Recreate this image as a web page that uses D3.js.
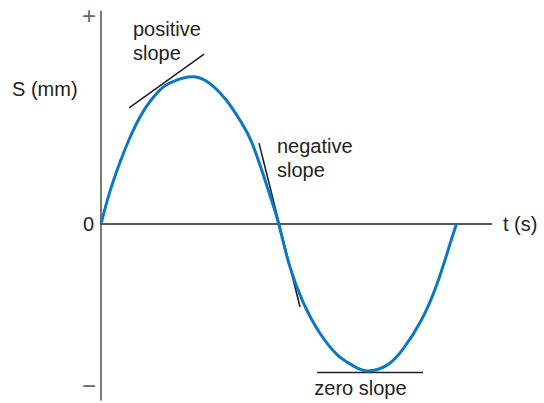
<!DOCTYPE html>
<html>
<head>
<meta charset="utf-8">
<script src="https://cdn.jsdelivr.net/npm/d3@7"></script>
<style>
  body { margin: 0; background: #fff; }
  text { font-family: "Liberation Sans", Arial, sans-serif; fill: #231f20; }
</style>
</head>
<body>
<div id="chart"></div>
<script>
'use strict';

// curve samples (t in s, S in mm, arbitrary units)
const tValues = [0, 0.05, 0.11, 0.16, 0.22, 0.28, 0.33, 0.38, 0.49, 0.59, 0.70, 0.79, 0.85, 0.92, 0.96, 1.0,
  1.06, 1.14, 1.23, 1.33, 1.42, 1.5, 1.61, 1.7, 1.8, 1.89, 1.96, 2.0];
const sValues = [0, 0.22, 0.43, 0.58, 0.73, 0.84, 0.91, 0.955, 1.0, 0.975, 0.85, 0.69, 0.55, 0.31, 0.16, 0,
  -0.28, -0.54, -0.74, -0.89, -0.965, -1.0, -0.96, -0.85, -0.66, -0.41, -0.15, 0];

// tangent lines: [t1, S1, t2, S2]
const tangentEnds = [
  [0.158, 0.79, 0.58, 1.156],
  [0.889, 0.55, 1.12, -0.565],
  [1.216, -1.01, 1.812, -1.01]
];

// labels
const yTickLabels = ['+', '0', '\u2212'];
const yTickValues = [1.42, 0, -1.1];
const slopeLabels = [['positive', 'slope'], ['negative', 'slope'], ['zero slope']];
const slopeLabelPos = [[0.18, 1.28], [0.99, 0.48], [1.2, -1.16]];

const width = 544;
const height = 403;

const svg = d3.select('#chart')
  .append('svg')
  .attr('width', width)
  .attr('height', height);

const xScale = d3.scaleLinear().domain([0, 2.2]).range([101, 492]);
const yScale = d3.scaleLinear().domain([-1, 1]).range([371, 77]);

// vertical axis
svg.append('line')
  .attr('x1', xScale(0)).attr('x2', xScale(0))
  .attr('y1', yScale(1.45)).attr('y2', yScale(-1.2))
  .attr('stroke', '#4d4d4f')
  .attr('stroke-width', 1.5);

// horizontal axis
svg.append('line')
  .attr('x1', xScale(0)).attr('x2', xScale(2.2))
  .attr('y1', yScale(0)).attr('y2', yScale(0))
  .attr('stroke', '#231f20')
  .attr('stroke-width', 1.4);

// y tick labels
svg.selectAll('.ytick')
  .data(yTickLabels)
  .enter()
  .append('text')
  .attr('class', 'ytick')
  .attr('x', (d, i) => i === 1 ? xScale(0) - 7 : xScale(0) - 5)
  .attr('y', (d, i) => yScale(yTickValues[i]))
  .attr('dy', '0.35em')
  .attr('text-anchor', 'end')
  .style('font-size', (d, i) => i === 1 ? '20px' : '24px')
  .style('fill', (d, i) => i === 1 ? '#231f20' : '#666')
  .text(d => d);

// axis titles
svg.append('text')
  .attr('x', 12)
  .attr('y', 96)
  .style('font-size', '20px')
  .text('S (mm)');

svg.append('text')
  .attr('x', 503)
  .attr('y', 231)
  .style('font-size', '20px')
  .text('t (s)');

// tangent lines
svg.selectAll('.tangent')
  .data(tangentEnds)
  .enter()
  .append('line')
  .attr('class', 'tangent')
  .attr('x1', d => xScale(d[0]))
  .attr('y1', d => yScale(d[1]))
  .attr('x2', d => xScale(d[2]))
  .attr('y2', d => yScale(d[3]))
  .attr('stroke', '#231f20')
  .attr('stroke-width', 1.6);

// displacement curve
const points = tValues.map((t, i) => [t, sValues[i]]);
const line = d3.line()
  .x(d => xScale(d[0]))
  .y(d => yScale(d[1]))
  .curve(d3.curveNatural);

svg.append('path')
  .datum(points)
  .attr('d', line)
  .attr('fill', 'none')
  .attr('stroke', '#0a78c2')
  .attr('stroke-width', 3);

// slope labels
slopeLabels.forEach((lines, i) => {
  const txt = svg.append('text')
    .attr('x', xScale(slopeLabelPos[i][0]))
    .attr('y', yScale(slopeLabelPos[i][1]))
    .style('font-size', '20px');
  lines.forEach((l, j) => {
    txt.append('tspan')
      .attr('x', xScale(slopeLabelPos[i][0]))
      .attr('dy', j === 0 ? 0 : 24)
      .text(l);
  });
});
</script>
</body>
</html>
